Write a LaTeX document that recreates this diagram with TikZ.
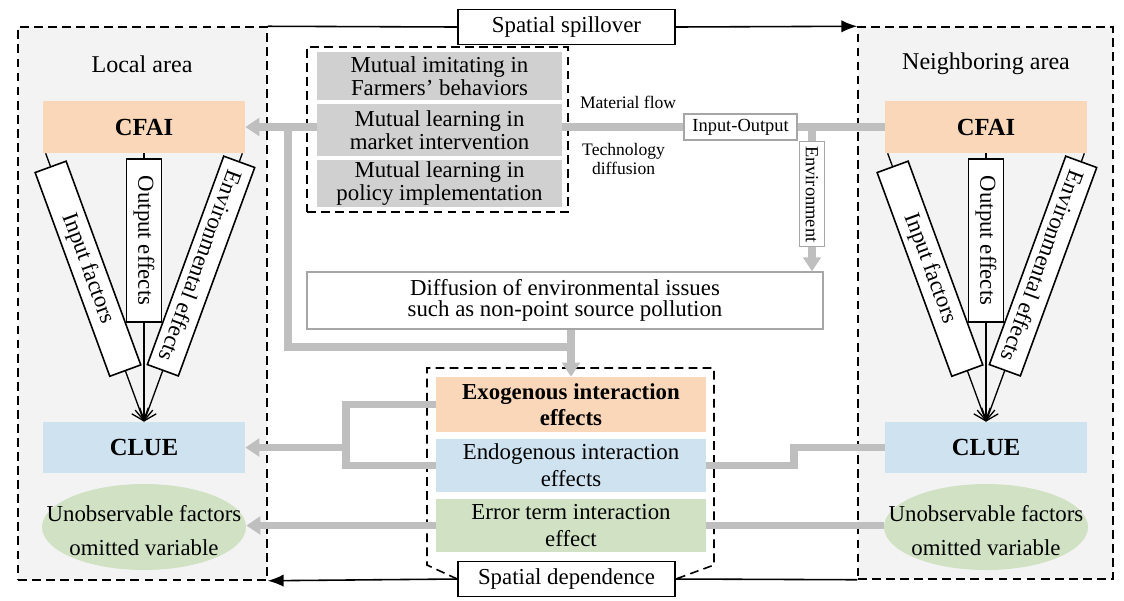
\documentclass[tikz,border=0pt]{standalone}
\usepackage{fontspec}
\setmainfont{Liberation Serif}
\usetikzlibrary{arrows.meta,shapes.geometric,calc}
\definecolor{panelgray}{HTML}{F3F3F3}
\definecolor{boxgray}{HTML}{D0D0D0}
\definecolor{linegray}{HTML}{BFBFBF}
\definecolor{framegray}{HTML}{A6A6A6}
\definecolor{peach}{HTML}{FAD7B9}
\definecolor{paleblue}{HTML}{CFE2F0}
\definecolor{palegreen}{HTML}{D0E2C3}

\begin{document}
\begin{tikzpicture}[x=0.02cm,y=-0.02cm,>={Latex[length=9pt,width=7pt]},inner sep=0pt,
  font=\fontsize{13}{13}\selectfont]
\tikzstyle{panel}=[draw,dash pattern=on 5pt off 3pt,line width=0.9pt,fill=panelgray]
\tikzstyle{dashbox}=[draw,dash pattern=on 5pt off 3pt,line width=0.9pt]
\tikzstyle{tag}=[draw,fill=white,line width=0.9pt,minimum width=4.34cm,minimum height=0.70cm]
\tikzstyle{mbox}=[fill=boxgray,minimum width=4.90cm,align=center,font=\fontsize{13}{12.8}\selectfont]
\tikzstyle{head}=[minimum width=4.04cm,font=\fontsize{14}{14}\selectfont\bfseries]
\tikzstyle{mid}=[minimum width=5.40cm,align=center]
\tikzstyle{ell}=[ellipse,fill=palegreen,minimum width=4.08cm,minimum height=1.72cm]
\tikzstyle{utext}=[align=center,font=\fontsize{13}{19}\selectfont,yshift=-2pt]
\tikzstyle{fan}=[line width=0.75pt,-{Straight Barb[length=6pt,width=10pt]}]
\tikzstyle{fanbox}=[draw=black,fill=white,line width=0.9pt,minimum height=0.66cm,sloped,allow upside down]
\tikzstyle{gline}=[draw=linegray,line width=4.5pt]
\tikzstyle{garrow}=[gline,-{Triangle[length=8pt,width=10pt]}]
\tikzstyle{smallbox}=[draw=framegray,fill=white,line width=0.8pt,font=\fontsize{10.5}{10.5}\selectfont]
\tikzstyle{small}=[align=center,font=\fontsize{10}{10.8}\selectfont]
\useasboundingbox (0,0) rectangle (1124,600);

\node[panel,minimum width=4.98cm,minimum height=11.06cm] (areaL) at (142.5,303.5) {};
\node[panel,minimum width=5.10cm,minimum height=11.04cm] (areaR) at (985.5,303) {};
\node[font=\fontsize{13.7}{14}\selectfont] (locL) at (142,64) {Local area};
\node[font=\fontsize{13.7}{14}\selectfont] (locR) at (986,64) {Neighboring area};
\node[tag] (spill) at (566.5,27) {Spatial spillover};
\node[tag] (dep) at (566.5,579) {Spatial dependence};
\draw[line width=0.9pt] (areaL.north east) -- (spill.west);
\draw[line width=0.9pt,->] (spill.east) -- (areaR.north west);
\draw[line width=0.9pt] (areaR.south west) -- (dep.east);
\draw[line width=0.9pt,->] (dep.west) -- (areaL.south east);

\node[dashbox,minimum width=5.22cm,minimum height=3.30cm] (grp) at (437.5,129.5) {};
\node[mbox,minimum height=0.96cm] (m1) at (439.5,76) {Mutual imitating in\\Farmers' behaviors};
\node[mbox,minimum height=1.04cm] (m2) at (439.5,130) {Mutual learning in\\market intervention};
\node[mbox,minimum height=0.94cm] (m3) at (439.5,183.5) {Mutual learning in\\policy implementation};

\node[head,fill=peach,minimum height=1.04cm] (cfaiL) at (144,127) {CFAI};
\node[head,fill=paleblue,minimum height=1.02cm] (clueL) at (144,447.5) {CLUE};
\node[ell] (ellL) at (144,527) {};
\node[utext] (uL) at (ellL) {Unobservable factors\\omitted variable};
\node[head,fill=peach,minimum height=1.04cm] (cfaiR) at (986,127) {CFAI};
\node[head,fill=paleblue,minimum height=1.02cm] (clueR) at (986,447.5) {CLUE};
\node[ell] (ellR) at (986,527) {};
\node[utext] (uR) at (ellR) {Unobservable factors\\omitted variable};

\node[draw=framegray,line width=0.8pt,fill=white,minimum width=10.32cm,minimum height=1.14cm,
  align=center,font=\fontsize{13}{11.7}\selectfont] (diff) at (565,300.5)
  {Diffusion of environmental issues\\such as non-point source pollution};
\node[mid,fill=peach,minimum height=1.10cm,font=\fontsize{13}{14.5}\selectfont\bfseries] (exo) at (571,404.5) {Exogenous interaction\\effects};
\node[mid,fill=paleblue,minimum height=1.06cm,font=\fontsize{13}{15.5}\selectfont] (endo) at (571,465.5) {Endogenous interaction\\effects};
\node[mid,fill=palegreen,minimum height=1.06cm,font=\fontsize{13}{15}\selectfont] (err) at (571,525.5) {Error term interaction\\effect};
\draw[dashbox] (dep.west) -- (427,565) -- (427,368) -- (714,368) -- (714,565) -- (dep.east);

\coordinate (jL) at (288,127);
\coordinate (jB) at (288,347);
\coordinate (jR) at (812,127);
\coordinate (brk) at (346,447.5);
\draw[garrow] (cfaiL.east -| m2.west) -- (cfaiL.east);
\draw[gline] (jL) -- (jB) -- (jB -| exo.north);
\draw[garrow] (exo.north |- diff.south) -- (exo.north);
\draw[gline] (cfaiR.west -| m2.east) -- node[small,pos=.204,above=8pt] (matf) {Material flow}
  node[small,pos=.19,below=7pt] (tech) {Technology\\diffusion}
  node[smallbox,pos=.553,minimum width=2.26cm,minimum height=0.52cm] (io) {Input-Output} (cfaiR.west);
\draw[garrow] (jR) -- node[smallbox,pos=.466,rotate=-90,minimum width=2.10cm,minimum height=0.50cm] (env) {Environment} (jR |- diff.north);
\draw[gline] (exo.west) -| (brk) |- (endo.west);
\draw[garrow] (brk) -- (clueL.east);
\draw[gline] (endo.east) -- ++(88,0) |- (clueR.west);
\draw[garrow] (err.west) -- (err.west -| ellL.east);
\draw[gline] (err.east) -- (err.east -| ellR.west);

\draw[fan] ($(cfaiL.south west)+(3,0)$) -- node[fanbox,pos=.43,minimum width=4.34cm] (inL) {Input factors} (clueL.north);
\draw[fan] (cfaiL.south) -- node[fanbox,pos=.325,minimum width=3.26cm,minimum height=0.70cm] (outL) {Output effects} (clueL.north);
\draw[fan] ($(cfaiL.south east)+(-3,0)$) -- node[fanbox,pos=.42,minimum width=4.44cm] (envL) {Environmental effects} (clueL.north);
\draw[fan] ($(cfaiR.south west)+(3,0)$) -- node[fanbox,pos=.43,minimum width=4.34cm] (inR) {Input factors} (clueR.north);
\draw[fan] (cfaiR.south) -- node[fanbox,pos=.325,minimum width=3.26cm,minimum height=0.70cm] (outR) {Output effects} (clueR.north);
\draw[fan] ($(cfaiR.south east)+(-3,0)$) -- node[fanbox,pos=.42,minimum width=4.44cm] (envR) {Environmental effects} (clueR.north);
\end{tikzpicture}
\end{document}
